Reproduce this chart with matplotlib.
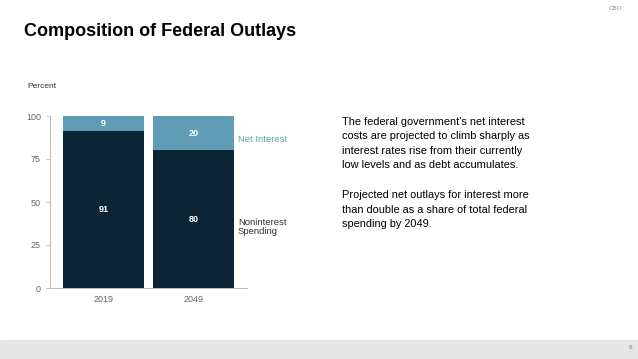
import matplotlib.pyplot as plt

years = ["2019", "2049"]
noninterest = [91, 80]
net_interest = [9, 20]

note_lines = [
    "The federal government's net interest",
    "costs are projected to climb sharply as",
    "interest rates rise from their currently",
    "low levels and as debt accumulates.",
    "",
    "Projected net outlays for interest more",
    "than double as a share of total federal",
    "spending by 2049.",
]

dark = "#0c2536"
light = "#5f9db6"
grey = "#666666"

plt.rcParams['font.family'] = ['Liberation Sans', 'DejaVu Sans']

fig = plt.figure(figsize=(6.38, 3.59), dpi=100)

# bottom band
fig.patches.append(plt.Rectangle((0, 0), 1, 19 / 359, transform=fig.transFigure,
                                 color="#e6e6e6", zorder=0))
fig.text(0.991, 0.032, "6", fontsize=4.5, color="#777777", ha="right", va="center")
fig.text(0.975, 0.977, "CBO", fontsize=4.5, color="#888888", ha="right", va="center")

fig.text(24 / 638, 1 - 32 / 359, "Composition of Federal Outlays",
         fontsize=13, fontweight="bold", ha="left", va="center")

ax = fig.add_axes([50 / 638, 1 - 288 / 359, 197 / 638, 172 / 359])
x = range(len(years))
ax.bar(x, noninterest, width=0.905, color=dark)
ax.bar(x, net_interest, bottom=noninterest, width=0.905, color=light)

for i in x:
    ax.text(i, noninterest[i] / 2, str(noninterest[i]), color="white",
            fontsize=6.5, fontweight="bold", ha="center", va="center")
    ax.text(i, noninterest[i] + net_interest[i] / 2, str(net_interest[i]),
            color="white", fontsize=6.5, fontweight="bold", ha="center", va="center")

ax.set_xlim(-0.6, 1.6)
ax.set_ylim(0, 100)
ax.set_yticks([0, 25, 50, 75, 100])
ax.set_xticks(list(x))
ax.set_xticklabels(years)
ax.tick_params(axis="both", labelsize=6.5, colors=grey, length=3, width=0.6,
               color="#bbbbbb")
ax.tick_params(axis="x", length=0, pad=5)
for s in ["top", "right"]:
    ax.spines[s].set_visible(False)
for s in ["left", "bottom"]:
    ax.spines[s].set_color("#bbbbbb")
    ax.spines[s].set_linewidth(0.7)

fig.text(27 / 638, 1 - 86 / 359, "Percent", fontsize=6, color="#333333",
         ha="left", va="center")
fig.text(238 / 638, 1 - 140 / 359, "Net Interest", fontsize=6.8, color=light,
         ha="left", va="center")
fig.text(238 / 638, 1 - 227 / 359, "Noninterest\nSpending", fontsize=6.8,
         color="#333333", ha="left", va="center", linespacing=1.1)

# right-hand note, one line at a time (14 px apart)
for k, line in enumerate(note_lines):
    if line:
        ybase = 125 + 14.3 * k + (2 if k > 4 else 0)
        fig.text(342 / 638, 1 - ybase / 359, line, fontsize=7.9,
                 ha="left", va="baseline")

fig.savefig("out.png", dpi=100)
